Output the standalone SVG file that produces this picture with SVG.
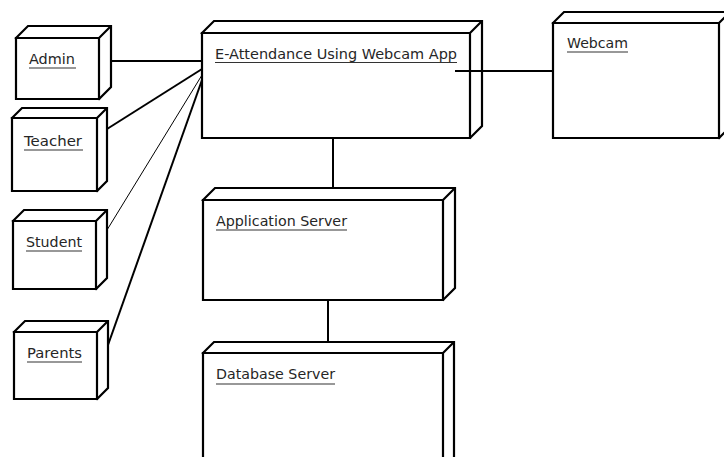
<svg xmlns="http://www.w3.org/2000/svg" width="724" height="457" viewBox="0 0 724 457">
<style>
.box{fill:#fff;stroke:#000;stroke-width:2.2;stroke-linejoin:miter}
.edge{fill:none;stroke:#000;stroke-width:2}
.thin{stroke-width:1}
.lbl{font-family:"DejaVu Sans","Liberation Sans",sans-serif;font-size:14.5px;fill:#262626}
.ul{stroke:#333;stroke-width:1.2}
</style>
<rect width="724" height="457" fill="#fff"/>
<g id="node-admin">
<path class="box" d="M16,38 L28,26 L111,26 L111,87 L99,99 Z"/>
<path class="box" d="M16,38 H99 V99 H16 Z M99,38 L111,26"/>
<text class="lbl" x="29" y="64" textLength="46" lengthAdjust="spacingAndGlyphs">Admin</text>
<line class="ul" x1="29" y1="68" x2="76" y2="68"/>
</g>
<g id="node-teacher">
<path class="box" d="M12,118 L22,108 L107,108 L107,181 L97,191 Z"/>
<path class="box" d="M12,118 H97 V191 H12 Z M97,118 L107,108"/>
<text class="lbl" x="24" y="146" textLength="58" lengthAdjust="spacingAndGlyphs">Teacher</text>
<line class="ul" x1="24" y1="150" x2="83" y2="150"/>
</g>
<g id="node-student">
<path class="box" d="M13,221 L24,210 L107,210 L107,278 L96,289 Z"/>
<path class="box" d="M13,221 H96 V289 H13 Z M96,221 L107,210"/>
<text class="lbl" x="26" y="247" textLength="56" lengthAdjust="spacingAndGlyphs">Student</text>
<line class="ul" x1="26" y1="251" x2="82" y2="251"/>
</g>
<g id="node-parents">
<path class="box" d="M14,332 L25,321 L108,321 L108,388 L97,399 Z"/>
<path class="box" d="M14,332 H97 V399 H14 Z M97,332 L108,321"/>
<text class="lbl" x="27" y="358" textLength="55" lengthAdjust="spacingAndGlyphs">Parents</text>
<line class="ul" x1="27" y1="362" x2="82" y2="362"/>
</g>
<g id="node-app">
<path class="box" d="M202,33 L214,21 L482,21 L482,126 L470,138 Z"/>
<path class="box" d="M202,33 H470 V138 H202 Z M470,33 L482,21"/>
<text class="lbl" x="215" y="59" textLength="242" lengthAdjust="spacingAndGlyphs">E-Attendance Using Webcam App</text>
<line class="ul" x1="215" y1="62.5" x2="457" y2="62.5"/>
</g>
<g id="node-webcam">
<path class="box" d="M553,23 L564,12 L730,12 L730,127 L719,138 Z"/>
<path class="box" d="M553,23 H719 V138 H553 Z M719,23 L730,12"/>
<text class="lbl" x="567" y="48" textLength="61" lengthAdjust="spacingAndGlyphs">Webcam</text>
<line class="ul" x1="567" y1="52" x2="628" y2="52"/>
</g>
<g id="node-appserver">
<path class="box" d="M203,200 L215,188 L455,188 L455,288 L443,300 Z"/>
<path class="box" d="M203,200 H443 V300 H203 Z M443,200 L455,188"/>
<text class="lbl" x="216" y="226" textLength="131" lengthAdjust="spacingAndGlyphs">Application Server</text>
<line class="ul" x1="216" y1="230" x2="347" y2="230"/>
</g>
<g id="node-dbserver">
<path class="box" d="M203,353 L214,342 L454,342 L454,462 L443,473 Z"/>
<path class="box" d="M203,353 H443 V473 H203 Z M443,353 L454,342"/>
<text class="lbl" x="216" y="379" textLength="119" lengthAdjust="spacingAndGlyphs">Database Server</text>
<line class="ul" x1="216" y1="384" x2="335" y2="384"/>
</g>
<g id="connectors">
<line class="edge" x1="110" y1="61" x2="202" y2="61"/>
<line class="edge" x1="107" y1="129" x2="202" y2="69"/>
<line class="edge thin" x1="107" y1="230" x2="202" y2="75"/>
<line class="edge" x1="108" y1="345" x2="202" y2="80"/>
<line class="edge" x1="455" y1="71" x2="553" y2="71"/>
<line class="edge" x1="333" y1="138" x2="333" y2="188"/>
<line class="edge" x1="328" y1="300" x2="328" y2="342"/>
</g>
</svg>
